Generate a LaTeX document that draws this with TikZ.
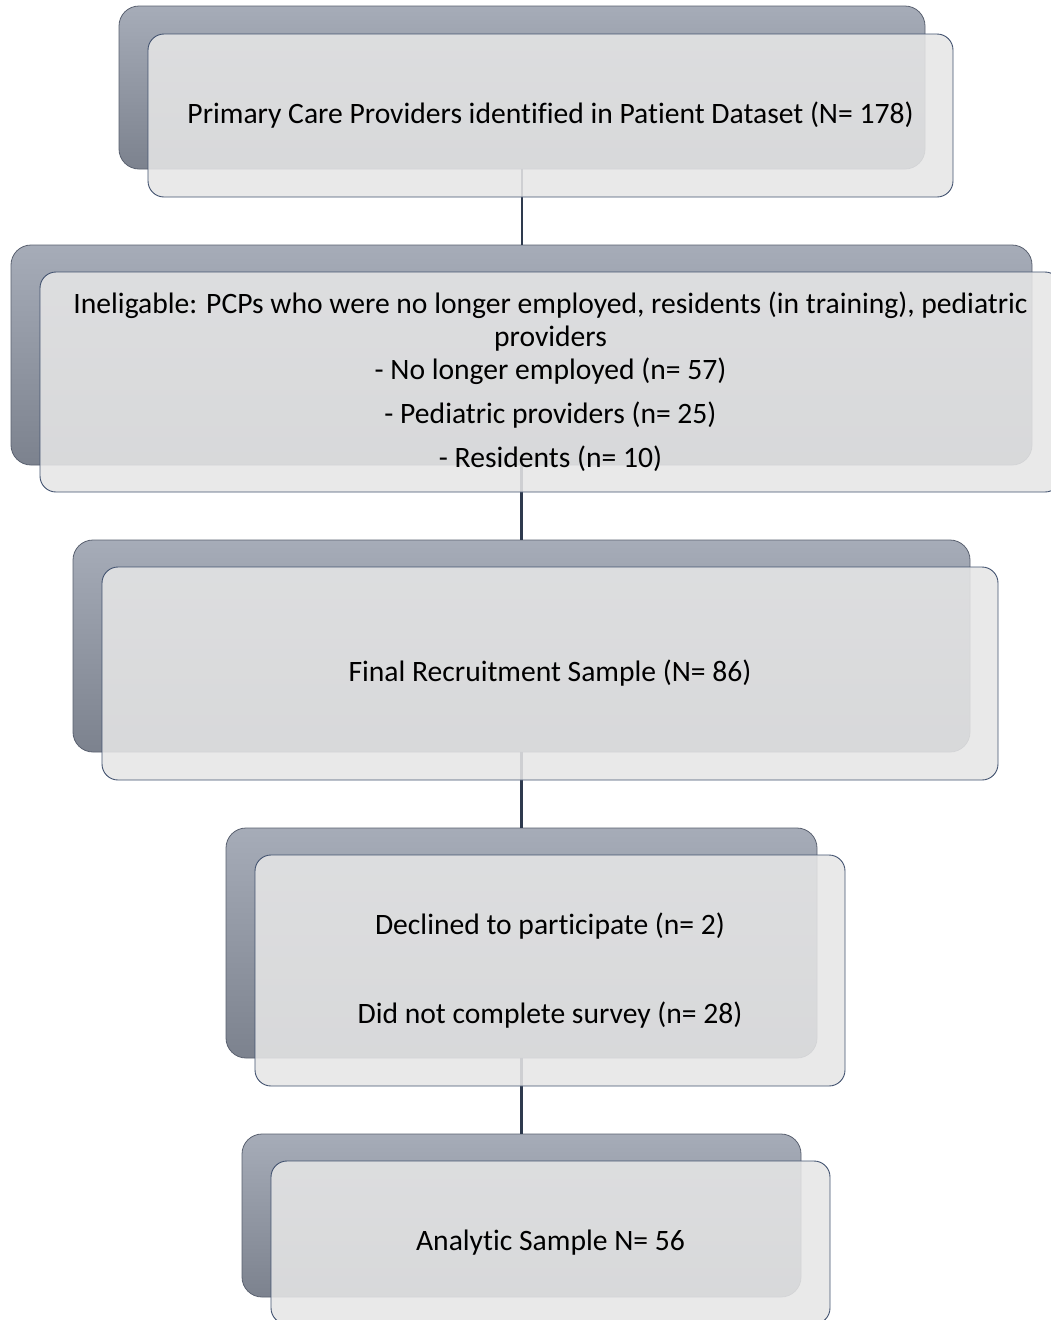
\documentclass[tikz,border=0pt]{standalone}
\usepackage{fontspec}
\setmainfont[Ligatures=NoCommon]{Carlito}
\definecolor{backtop}{HTML}{A6ACB8}
\definecolor{backbot}{HTML}{7C828E}
\definecolor{backline}{HTML}{5A6170}
\definecolor{frontfill}{HTML}{E6E6E6}
\definecolor{frontline}{HTML}{435370}
\definecolor{linkline}{HTML}{2E3A4E}
\tikzset{
  backbox/.style={rectangle, rounded corners=20pt, top color=backtop, bottom color=backbot,
    draw=backline, line width=0.8pt, inner sep=0pt},
  frontbox/.style={rectangle, rounded corners=16pt, fill=frontfill, fill opacity=0.87,
    text opacity=1, draw=frontline, line width=0.9pt, align=center, inner sep=0pt,
    font=\fontsize{29.6}{33}\selectfont},
  link/.style={draw=linkline, line width=2.4pt}
}

\begin{document}
\begin{tikzpicture}[x=1pt,y=-1pt]
			%%%%% START %%%%%
			\useasboundingbox (0,0) rectangle (1051,1320);
			\fill[white] (0,0) rectangle (1051,1320);
			
			% back plates
			\node[backbox, minimum width=806pt, minimum height=163pt] (bk1) at (522, 87.5) {};
			\node[backbox, minimum width=1021pt, minimum height=220pt] (bk2) at (521.5, 355) {};
			\node[backbox, minimum width=897pt, minimum height=212pt] (bk3) at (521.5, 646) {};
			\node[backbox, minimum width=591pt, minimum height=230pt] (bk4) at (521.5, 943) {};
			\node[backbox, minimum width=559pt, minimum height=163pt] (bk5) at (521.5, 1215.5) {};
			
			% links between the steps
			\draw[link] (bk1.south) -- (bk1.south |- bk2.north);
			\draw[link] (bk2.south) -- (bk2.south |- bk3.north);
			\draw[link] (bk3.south) -- (bk3.south |- bk4.north);
			\draw[link] (bk4.south) -- (bk4.south |- bk5.north);
			
			% front cards
			\node[frontbox, minimum width=805pt, minimum height=163pt] (fr1) at (550.5, 115.5)
				{Primary Care Providers identified in Patient Dataset (N= 178)};
			\node[frontbox, minimum width=1021pt, minimum height=220pt] (fr2) at (550.5, 382)
				{Ineligable: PCPs who were no longer employed, residents (in training), pediatric\\
				providers\\
				- No longer employed (n= 57)\\[11pt]
				- Pediatric providers (n= 25)\\[11pt]
				- Residents (n= 10)};
			\node[frontbox, minimum width=896pt, minimum height=213pt] (fr3) at (550, 673.5)
				{Final Recruitment Sample (N= 86)};
			\node[frontbox, minimum width=590pt, minimum height=231pt] (fr4) at (550, 970.5)
				{Declined to participate (n= 2)\\[56pt]
				Did not complete survey (n= 28)};
			\node[frontbox, minimum width=559pt, minimum height=163pt] (fr5) at (550.5, 1242.5)
				{Analytic Sample N= 56};
			
			%%%%% END %%%%%
\end{tikzpicture}
\end{document}
